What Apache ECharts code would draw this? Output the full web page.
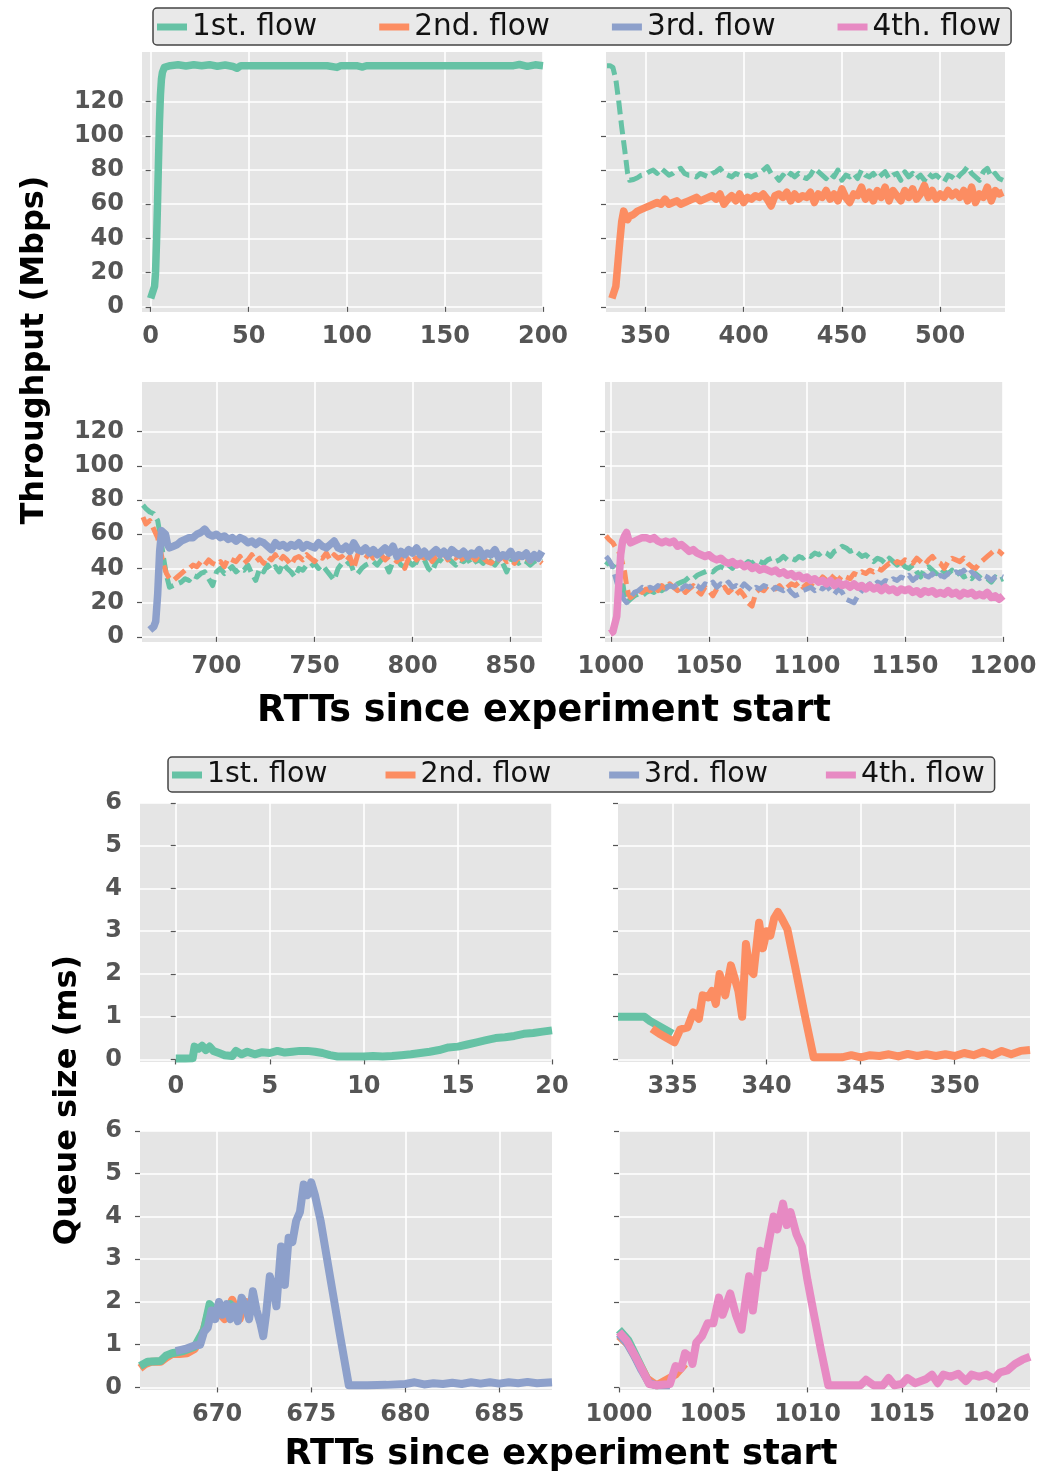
<!DOCTYPE html>
<html lang="en">
<head>
<meta charset="UTF-8">
<title>Throughput and queue size per flow</title>
<script src="https://cdn.jsdelivr.net/npm/echarts@6/dist/echarts.min.js"></script>
</head>
<body style="margin:0;background:#fff;">
<div id="main" style="width:1060px;height:1474px;"></div>
<script>
var flowNames = ['1st. flow', '2nd. flow', '3rd. flow', '4th. flow'];
var tpTicksY = [0, 20, 40, 60, 80, 100, 120];
var qTicksY = [0, 1, 2, 3, 4, 5, 6];
var xTicks = [
  [0, 50, 100, 150, 200], [350, 400, 450, 500], [700, 750, 800, 850], [1000, 1050, 1100, 1150, 1200],
  [0, 5, 10, 15, 20], [335, 340, 345, 350], [670, 675, 680, 685], [1000, 1005, 1010, 1015, 1020]
];

// throughput, panel 1 (flow 1 alone)
var tp1Flow1 = [[0,5],[1,6],[2,12],[2.5,20],[3,38],[3.5,60],[4,85],[4.5,108],[5,124],[5.5,133],[6,137],[7,140],[8,141],[10,141],[14,141.5],[18,140.8],[22,141.5],[26,141],[30,141.6],[34,140.7],[38,141.4],[42,140.5],[44,139.5],[46,141],[55,141],[70,141],[90,141],[95,140],[97,141],[105,141],[108,140.2],[110,141],[130,141],[160,141],[185,141],[188,141.7],[192,140.6],[196,141.5],[200,141]];

// throughput, panel 2
var tp2Flow1 = [[330.5,141],[332,141],[333.5,140],[335,133],[336.5,120],[338,105],[339.5,92],[341,78],[342,74],[344,74.5],[346,75.5],[348,77],[350,77.5],[352,79],[354,80],[356,78],[358,81],[360,79],[362,77],[364,78],[366,80],[368,81],[370,78],[372,77],[374,77],[376,76],[378,78],[380,77],[382,76],[384,78],[386,79],[388,81],[390,78],[392,77],[394,76],[396,78],[398,77],[400,76],[402,77],[404,76],[406,77],[408,78],[410,80],[412,82],[414,78],[416,77],[418,74],[420,77],[422,75],[424,78],[426,76],[428,78],[430,76],[432,75],[434,77],[436,81],[438,79],[440,77],[442,75],[444,78],[446,76],[448,80],[450,74],[452,77],[454,76],[456,78],[458,75],[460,80],[462,77],[464,76],[466,78],[468,75],[470,77],[472,79],[474,75],[476,77],[478,78],[480,74],[482,79],[484,76],[486,78],[488,75],[490,77],[492,74],[494,78],[496,76],[498,77],[500,75],[502,73],[504,77],[506,76],[508,74],[510,77],[512,79],[514,82],[516,78],[518,76],[520,74],[522,79],[524,81],[526,76],[528,78],[530,75],[532,74]];
var tp2Flow2 = [[333,5],[334,6],[335,12],[336,25],[337,38],[338,50],[339,56],[340,53],[341,51],[342,53],[344,54],[346,56],[348,57],[350,58],[352,59],[354,60],[356,61],[358,60],[360,63],[362,60],[364,61],[366,62],[368,60],[370,61],[372,62],[374,63],[376,64],[378,62],[380,63],[382,64],[384,65],[386,63],[388,66],[390,60],[392,63],[394,65],[396,62],[398,66],[400,61],[402,64],[404,63],[406,65],[408,64],[410,66],[412,63],[414,59],[416,65],[418,66],[420,64],[422,67],[424,62],[426,66],[428,63],[430,65],[432,64],[434,67],[436,61],[438,66],[440,64],[442,68],[444,63],[446,66],[448,62],[450,69],[452,64],[454,61],[456,66],[458,65],[460,70],[462,63],[464,67],[466,62],[468,68],[470,64],[472,70],[474,62],[476,68],[478,65],[480,62],[482,68],[484,64],[486,69],[488,63],[490,66],[492,71],[494,64],[496,68],[498,63],[500,66],[502,64],[504,68],[506,65],[508,67],[510,64],[512,68],[514,62],[516,70],[518,61],[520,66],[522,64],[524,70],[526,62],[528,68],[530,66],[532,67]];

// throughput, panel 3
var tp3Flow1 = [[662.5,77],[664,75],[666,73],[668,72],[670,68],[671.5,58],[673,46],[674.5,36],[676,29],[678,30],[680,31],[682,32],[684,34],[686,33],[688,36],[690,35],[692,37],[694,38],[696,34],[698,30],[700,38],[702,40],[704,37],[706,39],[708,41],[710,38],[712,40],[714,39],[716,42],[718,37],[720,33],[722,40],[724,38],[726,42],[728,39],[730,41],[732,38],[734,43],[736,40],[738,38],[740,35],[742,40],[744,39],[746,42],[748,41],[750,43],[752,40],[754,42],[756,39],[758,36],[760,33],[762,40],[764,43],[766,42],[768,44],[770,38],[772,37],[774,40],[776,42],[778,43],[780,44],[782,42],[784,45],[786,43],[788,38],[790,44],[792,46],[794,42],[796,41],[798,44],[800,42],[802,44],[804,43],[806,45],[808,40],[810,38],[812,44],[814,45],[816,43],[818,46],[820,44],[822,42],[824,45],[826,44],[828,46],[830,42],[832,44],[834,45],[836,43],[838,46],[840,44],[842,42],[844,45],[846,43],[848,38],[850,44],[852,46],[854,43],[856,45],[858,44],[860,42],[862,44],[864,45],[866,44]];
var tp3Flow2 = [[662.5,70],[664,66],[666,68],[668,63],[670,58],[671.5,50],[673,42],[674.5,37],[676,34],[678,33],[680,35],[682,37],[684,39],[686,40],[688,42],[690,41],[692,44],[694,42],[696,45],[698,43],[700,42],[702,44],[704,41],[706,46],[708,45],[710,44],[712,47],[714,43],[716,45],[718,48],[720,44],[722,46],[724,43],[726,47],[728,45],[730,48],[732,44],[734,47],[736,45],[738,42],[740,46],[742,47],[744,45],[746,48],[748,46],[750,44],[752,47],[754,46],[756,49],[758,45],[760,48],[762,46],[764,47],[766,44],[768,47],[770,40],[772,48],[774,47],[776,46],[778,49],[780,46],[782,47],[784,48],[786,45],[788,47],[790,46],[792,44],[794,47],[796,40],[798,46],[800,48],[802,45],[804,47],[806,46],[808,48],[810,44],[812,47],[814,46],[816,49],[818,45],[820,47],[822,46],[824,48],[826,44],[828,46],[830,47],[832,45],[834,48],[836,46],[838,44],[840,43],[842,46],[844,45],[846,47],[848,44],[850,45],[852,43],[854,47],[856,45],[858,46],[860,44],[862,47],[864,45],[866,43]];
var tp3Flow3 = [[666,4],[667,5],[668,6],[669,9],[670,25],[671,50],[672,62],[673,63],[674,60],[675,54],[676,52],[678,53],[680,54],[682,56],[684,57],[686,58],[688,58],[690,60],[692,61],[694,63],[696,60],[698,59],[700,60],[702,58],[704,59],[706,57],[708,58],[710,56],[712,58],[714,57],[716,55],[718,56],[720,54],[722,56],[724,55],[726,53],[728,51],[730,55],[732,53],[734,54],[736,52],[738,54],[740,53],[742,55],[744,52],[746,54],[748,53],[750,52],[752,55],[754,53],[756,52],[758,54],[760,56],[762,52],[764,51],[766,53],[768,50],[770,55],[772,51],[774,50],[776,52],[778,49],[780,51],[782,48],[784,50],[786,52],[788,49],[790,53],[792,47],[794,50],[796,48],[798,51],[800,49],[802,52],[804,48],[806,50],[808,47],[810,49],[812,51],[814,48],[816,50],[818,47],[820,51],[822,49],[824,48],[826,50],[828,47],[830,49],[832,48],[834,51],[836,47],[838,49],[840,48],[842,51],[844,46],[846,48],[848,47],[850,50],[852,46],[854,48],[856,47],[858,49],[860,45],[862,48],[864,46],[866,50]];

// throughput, panel 4
var tp4Flow1 = [[997.5,42],[999,44],[1001,41],[1003,44],[1004.5,40],[1006,32],[1007,24],[1008,20],[1010,22],[1012,24],[1014,25],[1016,24],[1018,26],[1020,27],[1022,26],[1024,28],[1026,27],[1028,29],[1030,30],[1032,29],[1034,31],[1036,32],[1038,33],[1040,35],[1042,34],[1044,36],[1046,37],[1048,38],[1050,39],[1052,38],[1054,40],[1056,41],[1058,40],[1060,42],[1062,40],[1064,43],[1066,44],[1068,42],[1070,44],[1072,43],[1074,45],[1076,44],[1078,43],[1080,45],[1082,46],[1084,44],[1086,45],[1088,47],[1090,45],[1092,46],[1094,45],[1096,47],[1098,46],[1100,48],[1102,47],[1104,49],[1106,48],[1108,50],[1110,49],[1112,47],[1114,50],[1116,51],[1118,53],[1120,52],[1122,50],[1124,51],[1126,49],[1128,47],[1130,48],[1132,46],[1134,44],[1136,46],[1138,45],[1140,43],[1142,46],[1144,44],[1146,42],[1148,44],[1150,41],[1152,40],[1154,42],[1156,38],[1158,35],[1160,40],[1162,41],[1164,39],[1166,37],[1168,40],[1170,38],[1172,37],[1174,39],[1176,36],[1178,38],[1180,35],[1182,36],[1184,34],[1186,37],[1188,35],[1190,33],[1192,34],[1194,32],[1196,35],[1198,33],[1200,34]];
var tp4Flow2 = [[997.5,59],[999,57],[1001,55],[1002.5,52],[1004,50],[1005.5,45],[1007,38],[1008,30],[1009,25],[1010,23],[1012,25],[1014,27],[1016,26],[1018,28],[1020,27],[1022,29],[1024,27],[1026,30],[1028,28],[1030,31],[1032,29],[1034,27],[1036,29],[1038,26],[1040,28],[1042,30],[1044,27],[1046,25],[1048,29],[1050,27],[1052,24],[1054,28],[1056,27],[1058,29],[1060,26],[1062,28],[1064,25],[1066,27],[1068,24],[1070,20],[1072,18],[1074,26],[1076,28],[1078,27],[1080,30],[1082,29],[1084,28],[1086,30],[1088,27],[1090,29],[1092,31],[1094,30],[1096,32],[1098,29],[1100,31],[1102,30],[1104,33],[1106,32],[1108,35],[1110,33],[1112,36],[1114,34],[1116,33],[1118,36],[1120,35],[1122,34],[1124,37],[1126,36],[1128,38],[1130,37],[1132,39],[1134,38],[1136,40],[1138,39],[1140,41],[1142,43],[1144,42],[1146,44],[1148,43],[1150,45],[1152,44],[1154,43],[1156,46],[1158,44],[1160,42],[1162,45],[1164,47],[1166,44],[1168,43],[1170,40],[1172,44],[1174,46],[1176,45],[1178,44],[1180,46],[1182,43],[1184,41],[1186,40],[1188,43],[1190,45],[1192,47],[1194,49],[1196,51],[1198,50],[1200,48]];
var tp4Flow3 = [[997.5,47],[999,45],[1000.5,42],[1002,36],[1003.5,30],[1005,26],[1006.5,22],[1008,20],[1010,23],[1012,26],[1014,27],[1016,29],[1018,28],[1020,29],[1022,28],[1024,30],[1026,29],[1028,28],[1030,30],[1032,29],[1034,31],[1036,28],[1038,30],[1040,29],[1042,31],[1044,30],[1046,28],[1048,31],[1050,30],[1052,32],[1054,29],[1056,31],[1058,30],[1060,32],[1062,29],[1064,30],[1066,28],[1068,31],[1070,29],[1072,27],[1074,29],[1076,28],[1078,30],[1080,29],[1082,27],[1084,29],[1086,28],[1088,27],[1090,29],[1092,26],[1094,24],[1096,25],[1098,27],[1100,28],[1102,29],[1104,27],[1106,29],[1108,28],[1110,30],[1112,27],[1114,25],[1116,28],[1118,26],[1120,22],[1122,21],[1124,20],[1126,24],[1128,27],[1130,29],[1132,31],[1134,30],[1136,32],[1138,31],[1140,33],[1142,32],[1144,34],[1146,33],[1148,35],[1150,34],[1152,36],[1154,33],[1156,35],[1158,34],[1160,36],[1162,35],[1164,37],[1166,34],[1168,36],[1170,35],[1172,37],[1174,36],[1176,38],[1178,37],[1180,39],[1182,36],[1184,38],[1186,36],[1188,34],[1190,36],[1192,35],[1194,33],[1196,35],[1198,36],[1200,35]];
var tp4Flow4 = [[999.5,2],[1001,3],[1002,4],[1003,12],[1004,30],[1005,48],[1006,56],[1007,59],[1008,61],[1009,57],[1010,55],[1012,56],[1014,57],[1016,58],[1018,58],[1020,57],[1022,58],[1024,56],[1026,55],[1028,56],[1030,55],[1032,56],[1034,53],[1036,54],[1038,52],[1040,50],[1042,51],[1044,49],[1046,48],[1048,47],[1050,48],[1052,46],[1054,45],[1056,46],[1058,44],[1060,43],[1062,44],[1064,42],[1066,43],[1068,41],[1070,42],[1072,40],[1074,41],[1076,39],[1078,40],[1080,39],[1082,38],[1084,39],[1086,37],[1088,38],[1090,36],[1092,37],[1094,35],[1096,36],[1098,34],[1100,35],[1102,33],[1104,34],[1106,32],[1108,33],[1110,31],[1112,33],[1114,30],[1116,32],[1118,30],[1120,31],[1122,29],[1124,31],[1126,29],[1128,30],[1130,28],[1132,30],[1134,28],[1136,29],[1138,27],[1140,29],[1142,27],[1144,28],[1146,26],[1148,28],[1150,27],[1152,28],[1154,26],[1156,27],[1158,25],[1160,27],[1162,26],[1164,27],[1166,25],[1168,26],[1170,25],[1172,27],[1174,25],[1176,26],[1178,24],[1180,26],[1182,25],[1184,26],[1186,24],[1188,25],[1190,24],[1192,26],[1194,23],[1196,24],[1198,22],[1200,24]];

// queue size panels
var q1Flow1 = [[0,0.02],[0.5,0.02],[0.9,0.03],[1.0,0.3],[1.2,0.25],[1.4,0.32],[1.6,0.22],[1.8,0.3],[2.0,0.2],[2.3,0.15],[2.6,0.1],[3.0,0.08],[3.2,0.2],[3.5,0.12],[3.8,0.18],[4.2,0.12],[4.6,0.17],[5.0,0.15],[5.4,0.2],[5.8,0.16],[6.2,0.18],[6.6,0.2],[7.0,0.2],[7.4,0.18],[7.8,0.15],[8.2,0.1],[8.6,0.07],[9.0,0.07],[9.5,0.07],[10,0.07],[10.5,0.08],[11,0.07],[11.5,0.08],[12,0.1],[12.5,0.12],[13,0.15],[13.5,0.18],[14,0.22],[14.5,0.28],[15,0.3],[15.5,0.35],[16,0.4],[16.5,0.45],[17,0.5],[17.5,0.52],[18,0.55],[18.5,0.6],[19,0.62],[19.5,0.65],[20,0.68]];
var q2Flow1 = [[332.1,1.0],[332.5,1.0],[333,1.0],[333.5,1.0],[333.8,0.9],[334.2,0.8],[334.6,0.7],[335,0.6]];
var q2Flow2 = [[333.9,0.72],[334.3,0.6],[334.7,0.5],[335.1,0.4],[335.4,0.7],[335.8,0.75],[336.1,1.1],[336.4,0.95],[336.6,1.5],[336.9,1.45],[337.1,1.6],[337.3,1.3],[337.5,2.0],[337.8,1.5],[338.1,2.2],[338.3,1.9],[338.5,1.6],[338.7,1.0],[338.9,2.7],[339.1,2.1],[339.3,2.0],[339.6,3.2],[339.8,2.6],[340.0,3.0],[340.2,2.9],[340.4,3.3],[340.6,3.45],[340.8,3.3],[341.1,3.05],[341.5,2.2],[342.0,1.1],[342.5,0.05],[343,0.05],[344,0.05],[344.5,0.1],[345,0.05],[345.5,0.1],[346,0.08],[346.5,0.12],[347,0.07],[347.5,0.13],[348,0.08],[348.5,0.12],[349,0.08],[349.5,0.12],[350,0.08],[350.5,0.15],[351,0.1],[351.5,0.18],[352,0.1],[352.5,0.2],[353,0.12],[353.5,0.2],[354,0.22]];
var q3Flow1 = [[665.9,0.5],[666.3,0.6],[667,0.62],[667.3,0.75],[667.6,0.8],[668.2,0.85],[668.8,0.95],[669.3,1.35],[669.6,1.95],[669.9,1.8],[670.4,1.75],[670.7,1.95],[671.2,1.7]];
var q3Flow2 = [[665.9,0.45],[666.2,0.55],[666.5,0.6],[667,0.6],[667.3,0.7],[667.6,0.78],[668,0.78],[668.4,0.8],[668.8,0.9],[669.2,1.2],[669.6,1.85],[670,1.8],[670.4,1.6],[670.8,2.05],[671.2,1.6],[671.5,2.1]];
var q3Flow3 = [[667.8,0.85],[668.3,0.9],[668.8,0.98],[669.1,1.0],[669.3,1.3],[669.5,1.4],[669.7,1.8],[669.9,1.6],[670.1,2.0],[670.3,1.7],[670.5,1.95],[670.7,1.6],[670.9,1.9],[671.1,1.55],[671.3,2.1],[671.5,1.9],[671.7,1.6],[671.9,2.25],[672.1,1.8],[672.3,1.5],[672.45,1.2],[672.6,1.7],[672.8,2.6],[673.0,2.3],[673.15,1.9],[673.4,3.3],[673.6,2.4],[673.8,3.5],[674.0,3.4],[674.2,3.9],[674.4,4.1],[674.6,4.75],[674.8,4.5],[675.0,4.8],[675.2,4.5],[675.5,3.9],[676.0,2.6],[676.5,1.3],[677.0,0.05],[678,0.05],[679,0.06],[680,0.08],[680.5,0.12],[681,0.07],[681.5,0.1],[682,0.08],[682.5,0.11],[683,0.08],[683.5,0.12],[684,0.09],[684.5,0.12],[685,0.09],[685.5,0.12],[686,0.1],[686.5,0.13],[687,0.1],[687.8,0.12]];
var q4Flow1 = [[1000,1.35],[1000.5,1.1],[1001,0.65],[1001.6,0.1],[1002,0.05]];
var q4Flow2 = [[1000,1.2],[1000.5,1.0],[1001,0.6],[1001.5,0.2],[1002,0.05],[1003,0.3],[1003.5,0.55]];
var q4Flow3 = [[1000,1.25],[1000.4,1.05],[1000.8,0.75],[1001.2,0.4],[1001.6,0.1],[1002,0.05],[1002.7,0.05]];
var q4Flow4 = [[1000,1.3],[1000.4,1.1],[1000.9,0.7],[1001.3,0.35],[1001.6,0.08],[1002,0.05],[1002.7,0.08],[1003,0.5],[1003.3,0.45],[1003.5,0.8],[1003.8,0.7],[1003.9,0.55],[1004.1,1.05],[1004.4,1.2],[1004.7,1.5],[1005,1.5],[1005.3,2.1],[1005.5,1.7],[1005.6,1.7],[1005.9,2.2],[1006.2,1.7],[1006.5,1.35],[1006.7,2.0],[1006.9,2.6],[1007.1,1.8],[1007.3,2.5],[1007.5,3.2],[1007.7,2.8],[1007.9,3.3],[1008.2,4.0],[1008.4,3.7],[1008.7,4.3],[1008.9,3.8],[1009.1,4.1],[1009.4,3.6],[1009.7,3.3],[1010.0,2.5],[1010.3,1.8],[1010.7,0.9],[1011.1,0.05],[1012,0.05],[1012.8,0.05],[1013.1,0.18],[1013.5,0.05],[1014.0,0.05],[1014.3,0.22],[1014.6,0.05],[1015.0,0.08],[1015.3,0.22],[1015.7,0.1],[1016.3,0.2],[1016.6,0.3],[1016.9,0.1],[1017.2,0.3],[1017.6,0.25],[1018,0.32],[1018.4,0.15],[1018.7,0.3],[1019.1,0.25],[1019.5,0.3],[1019.9,0.2],[1020.2,0.35],[1020.6,0.4],[1021,0.55],[1021.4,0.65],[1021.8,0.72]];

var FONT = 'DejaVu Sans';
var COLORS = ['#66c2a5', '#fc8d62', '#8da0cb', '#e78ac3'];

// panel boxes in pixels
var grids = [
  {left: 142, top: 52, width: 401, height: 260},
  {left: 606, top: 52, width: 399, height: 260},
  {left: 142, top: 382, width: 400, height: 260},
  {left: 605, top: 382, width: 398, height: 260},
  {left: 140, top: 803, width: 412, height: 259},
  {left: 618, top: 803, width: 412, height: 259},
  {left: 140, top: 1131, width: 412, height: 259},
  {left: 619, top: 1131, width: 411, height: 259}
];
var xRanges = [[-4.4, 200], [330, 533], [662, 866], [997, 1200], [-1.9, 20], [332.1, 354], [665.9, 687.8], [1000, 1021.8]];

var tickLabel = {fontFamily: FONT, fontWeight: 'bold', fontSize: 24, color: '#555',
  formatter: function (v) { return String(v); }};

var xAxes = grids.map(function (g, i) {
  return {
    type: 'value', gridIndex: i, min: xRanges[i][0], max: xRanges[i][1],
    axisLine: {show: false},
    axisTick: {show: true, length: 5, customValues: xTicks[i], lineStyle: {color: '#555', width: 1.2}},
    axisLabel: Object.assign({margin: 13, customValues: xTicks[i]}, tickLabel),
    splitLine: {show: true, lineStyle: {color: '#fff', width: 1.6}}
  };
});
var yAxes = grids.map(function (g, i) {
  var isTp = i < 4;
  var ticks = isTp ? tpTicksY : qTicksY;
  return {
    type: 'value', gridIndex: i,
    min: isTp ? -3 : -0.06, max: isTp ? 149 : 6,
    axisLine: {show: false},
    axisTick: {show: true, length: 5, customValues: ticks, lineStyle: {color: '#555', width: 1.2}},
    axisLabel: Object.assign({show: i % 2 === 0, margin: 18, customValues: ticks}, tickLabel),
    splitLine: {show: true, lineStyle: {color: '#fff', width: 1.6}}
  };
});

function line(grid, flow, data, dashed) {
  var w = grid >= 4 ? 8 : (dashed ? 5 : 7.5);
  return {
    type: 'line', name: flowNames[flow], xAxisIndex: grid, yAxisIndex: grid,
    data: data, showSymbol: false, symbol: 'none', clip: true, silent: true,
    color: COLORS[flow],
    lineStyle: {color: COLORS[flow], width: w, type: dashed ? [14, 6] : 'solid', join: 'round'}
  };
}

var series = [
  line(0, 0, tp1Flow1, false),
  line(1, 0, tp2Flow1, true), line(1, 1, tp2Flow2, false),
  line(2, 0, tp3Flow1, true), line(2, 1, tp3Flow2, true), line(2, 2, tp3Flow3, false),
  line(3, 0, tp4Flow1, true), line(3, 1, tp4Flow2, true), line(3, 2, tp4Flow3, true), line(3, 3, tp4Flow4, false),
  line(4, 0, q1Flow1, false),
  line(5, 0, q2Flow1, false), line(5, 1, q2Flow2, false),
  line(6, 1, q3Flow2, false), line(6, 0, q3Flow1, false), line(6, 2, q3Flow3, false),
  line(7, 0, q4Flow1, false), line(7, 1, q4Flow2, false), line(7, 2, q4Flow3, false), line(7, 3, q4Flow4, false)
];

function legend(top, left, size, gap) {
  return {
    top: top, left: left, data: flowNames, icon: 'rect', itemWidth: 30, itemHeight: 7, itemGap: gap,
    selectedMode: false,
    backgroundColor: '#e9e9e9', borderColor: '#444', borderWidth: 1.5, borderRadius: 4,
    padding: [4, 10, 3, 4],
    itemStyle: {borderWidth: 0},
    textStyle: {fontFamily: FONT, fontSize: size, color: '#111'}
  };
}

function title(text, x, y, size, rotate) {
  return {
    type: 'text', x: x, y: y, rotation: rotate ? Math.PI / 2 : 0, silent: true,
    style: {text: text, fontFamily: FONT, fontWeight: 'bold', fontSize: size, fill: '#000', align: 'center', verticalAlign: 'middle'}
  };
}

var myChart = echarts.init(document.getElementById('main'));
myChart.setOption({
  animation: false,
  backgroundColor: '#fff',
  grid: grids.map(function (g) {
    return {left: g.left, top: g.top, width: g.width, height: g.height, show: true, backgroundColor: '#e5e5e5', borderWidth: 0};
  }),
  xAxis: xAxes,
  yAxis: yAxes,
  legend: [legend(8, 153, 29.5, 62), legend(757, 168, 28.4, 58)],
  graphic: [
    title('Throughput (Mbps)', 35, 350, 32, true),
    title('RTTs since experiment start', 544, 712, 36.5, false),
    title('Queue size (ms)', 68, 1100, 32, true),
    title('RTTs since experiment start', 561, 1455, 35.2, false)
  ],
  series: series
});
</script>
</body>
</html>
